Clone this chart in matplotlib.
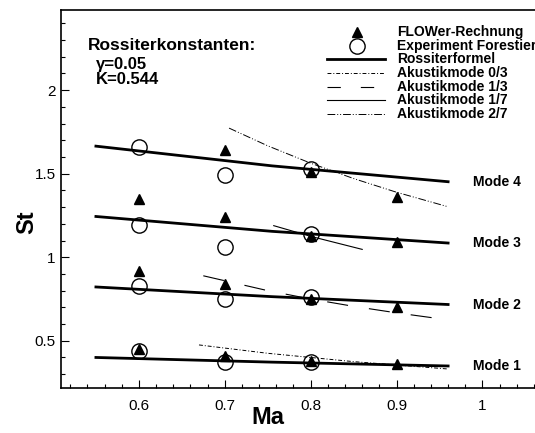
"""Rossiter modes: St over Ma, FLOWer vs. experiment

Output: out.png
"""
import matplotlib.pyplot as plt
from matplotlib.ticker import MultipleLocator, FuncFormatter

plt.rcParams["font.family"] = ["Liberation Sans", "DejaVu Sans"]

# measured points
ma_flower = [0.6, 0.6, 0.6, 0.7, 0.7, 0.7, 0.7, 0.8, 0.8, 0.8, 0.8, 0.9, 0.9, 0.9, 0.9]
st_flower = [0.45, 0.92, 1.35, 0.41, 0.84, 1.24, 1.64, 0.38, 0.75, 1.13, 1.51, 0.36, 0.70, 1.09, 1.36]
ma_exp = [0.6, 0.6, 0.6, 0.6, 0.7, 0.7, 0.7, 0.7, 0.8, 0.8, 0.8, 0.8]
st_exp = [0.44, 0.83, 1.19, 1.66, 0.37, 0.75, 1.06, 1.49, 0.37, 0.76, 1.14, 1.53]

# Rossiter lines, modes 1..4
ma_ross = [0.55, 0.755, 0.96]
st_ross = [
    [0.400, 0.372, 0.349],
    [0.822, 0.764, 0.717],
    [1.244, 1.155, 1.085],
    [1.665, 1.547, 1.452],
]
mode_labels = ["Mode 1", "Mode 2", "Mode 3", "Mode 4"]

# acoustic modes
ma_ak03 = [0.67, 0.75, 0.85, 0.96]
st_ak03 = [0.475, 0.425, 0.375, 0.331]
ma_ak13 = [0.675, 0.75, 0.80, 0.85, 0.90, 0.95]
st_ak13 = [0.889, 0.800, 0.750, 0.706, 0.667, 0.632]
ma_ak17 = [0.757, 0.80, 0.86]
st_ak17 = [1.189, 1.125, 1.047]
ma_ak27 = [0.705, 0.75, 0.80, 0.85, 0.90, 0.96]
st_ak27 = [1.773, 1.667, 1.563, 1.471, 1.389, 1.302]

W, H = 535, 433
fig = plt.figure(figsize=(W / 100, H / 100), dpi=100)
ax = fig.add_axes([60.7 / W, 45.3 / H, 481.9 / W, 377.7 / H])
ax.set_xlim(0.509, 1.07)
ax.set_ylim(0.219, 2.48)

for st in st_ross:
    ax.plot(ma_ross, st, color="black", lw=2.0, zorder=3)

ax.plot(ma_ak03, st_ak03, color="black", lw=0.7, dashes=(4, 2, 1, 2))
ax.plot(ma_ak13, st_ak13, color="black", lw=0.8, dashes=(19, 19))
ax.plot(ma_ak17, st_ak17, color="black", lw=0.8)
ax.plot(ma_ak27, st_ak27, color="black", lw=0.7, dashes=(8, 2, 1, 2, 1, 2))

ax.plot(ma_flower, st_flower, ls="none", marker="^", ms=7, color="black", zorder=5)
ax.plot(ma_exp, st_exp, ls="none", marker="o", ms=11, mfc="none", mec="black",
        mew=1.0, zorder=4)

for st, lab in zip(st_ross, mode_labels):
    ax.text(0.989, st[-1], lab, ha="left", va="center", fontsize=10,
            fontweight="bold")

# legend, drawn by hand in pixel positions
def px(x, y):
    return x / W, 1 - y / H

rows = [32, 46, 59, 73, 87, 100, 114]
names = ["FLOWer-Rechnung", "Experiment Forestier", "Rossiterformel",
         "Akustikmode 0/3", "Akustikmode 1/3", "Akustikmode 1/7", "Akustikmode 2/7"]
styles = [None, None, dict(lw=2.0), dict(lw=0.7, dashes=(4, 2, 1, 2)),
          dict(lw=0.8, dashes=(12, 18)), dict(lw=0.8),
          dict(lw=0.7, dashes=(8, 2, 1, 2, 1, 2))]
for y, name, st in zip(rows, names, styles):
    fx, fy = px(397, y)
    fig.text(fx, fy, name, ha="left", va="center", fontsize=10, fontweight="bold")
    if st is None:
        continue
    x0, _ = px(327, y)
    x1, _ = px(385, y)
    fig.add_artist(plt.Line2D([x0, x1], [fy, fy], color="black", **st))
mx, my = px(357, rows[0])
fig.add_artist(plt.Line2D([mx], [my], marker="^", ms=7, color="black", ls="none"))
mx, my = px(357, rows[1])
fig.add_artist(plt.Line2D([mx], [my], marker="o", ms=11, mfc="none", mec="black",
                          mew=1.0, ls="none"))

tx, ty = px(88, 45)
fig.text(tx, ty, "Rossiterkonstanten:", ha="left", va="center", fontsize=12.5,
         fontweight="bold")
tx, ty = px(96, 65)
fig.text(tx, ty, "γ=0.05", ha="left", va="center", fontsize=12, fontweight="bold")
tx, ty = px(96, 80)
fig.text(tx, ty, "K=0.544", ha="left", va="center", fontsize=12, fontweight="bold")

# axes styling
ax.xaxis.set_major_locator(MultipleLocator(0.1))
ax.xaxis.set_minor_locator(MultipleLocator(0.02))
ax.yaxis.set_major_locator(MultipleLocator(0.5))
ax.yaxis.set_minor_locator(MultipleLocator(0.1))
fmt = FuncFormatter(lambda v, p: f"{v:g}")
ax.xaxis.set_major_formatter(fmt)
ax.yaxis.set_major_formatter(fmt)
ax.tick_params(which="both", direction="in", labelsize=11, width=0.8)
ax.tick_params(which="major", length=6)
ax.tick_params(which="minor", length=3)
ax.tick_params(axis="x", pad=8)
for sp in ax.spines.values():
    sp.set_linewidth(1.2)

ax.set_xlabel("Ma", fontsize=17, fontweight="bold")
ax.set_ylabel("St", fontsize=17, fontweight="bold")
ax.xaxis.set_label_coords((268 - 60.7) / 481.9, -(418 - 387.7) / 377.7, )
ax.yaxis.set_label_coords((27 - 60.7) / 481.9, (387.7 - 222) / 377.7)
ax.xaxis.label.set_va("center")
ax.yaxis.label.set_va("center")

fig.savefig("out.png", dpi=100, facecolor="white")
